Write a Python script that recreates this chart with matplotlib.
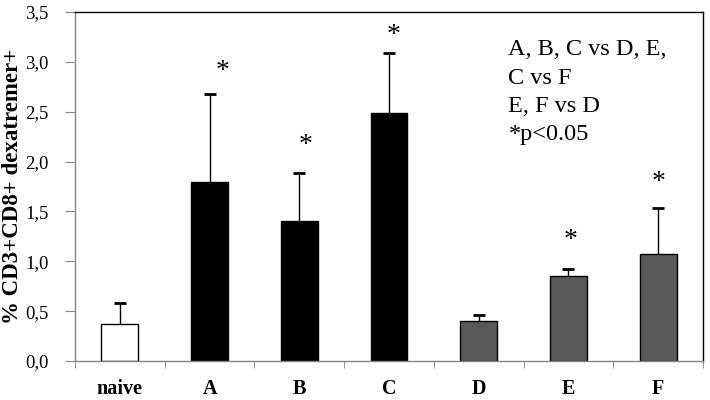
import matplotlib
matplotlib.use("Agg")
import matplotlib.pyplot as plt
from matplotlib.ticker import FixedLocator, NullFormatter

categories = ["naive", "A", "B", "C", "D", "E", "F"]
means = [0.37, 1.80, 1.40, 2.49, 0.40, 0.85, 1.07]
errors = [0.21, 0.88, 0.49, 0.60, 0.06, 0.07, 0.46]
star_y = [None, 2.90, 2.16, 3.26, None, 1.21, 1.79]
star_dx = [0, 0.14, 0.07, 0.05, 0, 0.02, 0.0]
bar_colors = ["white", "black", "black", "black", "#595959", "#595959", "#595959"]
yticks = [0.0, 0.5, 1.0, 1.5, 2.0, 2.5, 3.0, 3.5]
note_lines = ["A, B, C vs D, E,", "C vs F", "E, F vs D", "*p<0.05"]

plt.rcParams["font.family"] = ["Liberation Serif", "DejaVu Serif"]

fig = plt.figure(figsize=(7.1, 4.0), dpi=100)
ax = fig.add_axes([75/710, 1 - 361/400, 628/710, 349/400])

x = list(range(len(categories)))
tops = [m + e for m, e in zip(means, errors)]
ax.bar(x, means, width=0.41, color=bar_colors, edgecolor="black", linewidth=1.0, zorder=2)
ax.errorbar(x, means, yerr=[[0]*len(errors), errors], fmt="none", ecolor="black",
            elinewidth=1.0, capsize=0, zorder=1)
ax.plot(x, tops, linestyle="none", marker="_", markersize=8, markeredgewidth=2,
        color="black", zorder=3)

for i, sy in enumerate(star_y):
    if sy is not None:
        ax.text(i + star_dx[i], sy, "*", ha="center", va="center", fontsize=20)

ax.set_xlim(-0.5, len(categories) - 0.5)
ax.set_ylim(0, 3.5)
ax.set_yticks(yticks)
ax.set_yticklabels([f"{v:.1f}".replace(".", ",") for v in yticks], fontsize=13.5)

ax.set_xticks(x)
ax.set_xticklabels(categories, fontsize=14.5, fontweight="bold")
ax.tick_params(axis="x", which="major", length=0, pad=13)
ax.xaxis.set_minor_locator(FixedLocator([i + 0.5 for i in range(-1, len(categories))]))
ax.xaxis.set_minor_formatter(NullFormatter())
ax.tick_params(axis="x", which="minor", length=5, color="#868686", direction="out")
ax.tick_params(axis="y", length=7, color="#868686", direction="out", pad=12)

ax.spines["left"].set_color("#868686")
ax.spines["bottom"].set_color("#868686")
ax.spines["top"].set_color("black")
ax.spines["right"].set_color("black")
for s in ax.spines.values():
    s.set_linewidth(1.0)

ax.set_ylabel("% CD3+CD8+ dexatremer+", fontsize=16.5, fontweight="bold")
ax.yaxis.set_label_coords((23 - 75) / 628, 0.5)

ny = 3.12
for k, line in enumerate(note_lines):
    ax.text(4.33, ny - k * 0.283, line, ha="left", va="center", fontsize=17.5)

fig.savefig("out.png", dpi=100)
